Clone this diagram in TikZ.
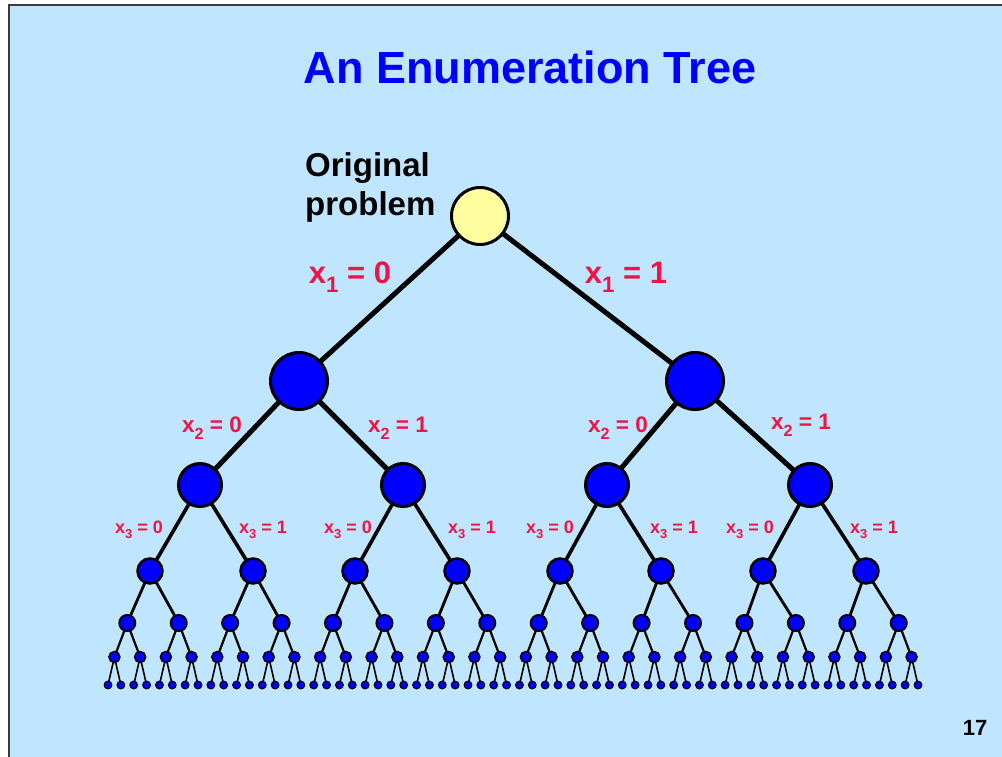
\documentclass[tikz,border=0pt]{standalone}
\usepackage{fontspec}
\setmainfont{Liberation Sans}
\usetikzlibrary{backgrounds}
\definecolor{bgblue}{RGB}{192,229,254}
\definecolor{lblred}{RGB}{240,20,70}
\definecolor{ttlblue}{RGB}{0,0,255}
\definecolor{ndblue}{RGB}{0,0,255}
\definecolor{ndyellow}{RGB}{255,255,160}
\definecolor{framecol}{RGB}{60,60,60}
\newcommand{\xeq}[2]{x\raisebox{-0.32em}{\scalebox{0.72}{#1}} = #2}
\pgfdeclarelayer{back}
\pgfdeclarelayer{edges}
\pgfsetlayers{back,edges,main}
\tikzset{
  nd/.style={circle, draw=black, fill=ndblue, inner sep=0pt},
  lvlroot/.style={nd, fill=ndyellow, minimum size=57pt, line width=3pt},
  lvla/.style={nd, minimum size=57pt, line width=3pt},
  lvlb/.style={nd, minimum size=43pt, line width=3pt},
  lvlc/.style={nd, minimum size=25pt, line width=2.5pt},
  lvld/.style={nd, minimum size=16pt, line width=2pt},
  lvle/.style={nd, minimum size=11pt, line width=1.5pt},
  lvlf/.style={nd, minimum size=7.6pt, line width=1.2pt},
  edgeA/.style={line width=5pt},
  edgeB/.style={line width=5pt},
  edgeC/.style={line width=3.6pt},
  edgeD/.style={line width=2.8pt},
  edgeE/.style={line width=2.2pt},
  edgeF/.style={line width=1.6pt},
  lblA/.style={text=lblred, font=\fontsize{31}{33}\selectfont\bfseries, anchor=base, inner sep=0pt},
  lblB/.style={text=lblred, font=\fontsize{22.5}{24}\selectfont\bfseries, anchor=base, inner sep=0pt},
  lblC/.style={text=lblred, font=\fontsize{18}{20}\selectfont\bfseries, anchor=base, inner sep=0pt},
}
\begin{document}
\begin{tikzpicture}[x=1pt,y=-1pt]
\useasboundingbox (0,0) rectangle (1002,757);
\begin{pgfonlayer}{back}
\fill[white] (0,0) rectangle (1002,757);
\fill[bgblue] (9,5) rectangle (1002,757);
\draw[framecol, line width=1.5pt] (9,757) -- (9,5) -- (1002,5);
\end{pgfonlayer}

% title
\node[text=ttlblue, font=\fontsize{45}{48}\selectfont\bfseries, anchor=base, inner sep=0pt] (title) at (530,84) {An Enumeration Tree};
\node[font=\fontsize{33}{36}\selectfont\bfseries, anchor=base west, inner sep=0pt] (orig1) at (305,177) {Original};
\node[font=\fontsize{33}{36}\selectfont\bfseries, anchor=base west, inner sep=0pt] (orig2) at (305,215) {problem};
\node[font=\fontsize{22}{24}\selectfont\bfseries, anchor=base, inner sep=0pt] (pgnum) at (975,735) {17};

% nodes
\node[lvlroot] (r) at (480,216) {};
\node[lvla] (a0) at (299,381) {};
\node[lvla] (a1) at (695,381) {};
\foreach \x [count=\i from 0] in {200,403,607,810} \node[lvlb] (b\i) at (\x,485) {};
\foreach \x [count=\i from 0] in {150,253,355,457,560,661,763,866} \node[lvlc] (c\i) at (\x,571) {};
\foreach \k in {0,...,15} \node[lvld] (d\k) at ({127.29+51.43*\k},623) {};
\foreach \j in {0,...,31} \node[lvle] (e\j) at ({114.43+25.714*\j},657) {};
\foreach \i in {0,...,63} \node[lvlf] (f\i) at ({108+12.857*\i},685) {};

% edges
\begin{pgfonlayer}{edges}
\draw[edgeA] (a0.center) -- (r.center) -- (a1.center);
\draw[edgeB] (b0.center) -- (a0.center) -- (b1.center);
\draw[edgeB] (b2.center) -- (a1.center) -- (b3.center);
\foreach \p in {0,...,3} {
  \pgfmathtruncatemacro\ca{2*\p}\pgfmathtruncatemacro\cb{2*\p+1}
  \draw[edgeC] (c\ca.center) -- (b\p.center) -- (c\cb.center);
}
\foreach \p in {0,...,7} {
  \pgfmathtruncatemacro\ca{2*\p}\pgfmathtruncatemacro\cb{2*\p+1}
  \draw[edgeD] (d\ca.center) -- (c\p.center) -- (d\cb.center);
}
\foreach \p in {0,...,15} {
  \pgfmathtruncatemacro\ca{2*\p}\pgfmathtruncatemacro\cb{2*\p+1}
  \draw[edgeE] (e\ca.center) -- (d\p.center) -- (e\cb.center);
}
\foreach \p in {0,...,31} {
  \pgfmathtruncatemacro\ca{2*\p}\pgfmathtruncatemacro\cb{2*\p+1}
  \draw[edgeF] (f\ca.center) -- (e\p.center) -- (f\cb.center);
}
\end{pgfonlayer}

% labels
\node[lblA] (l10) at (350,283) {\xeq{1}{0}};
\node[lblA] (l11) at (626,283) {\xeq{1}{1}};
\node[lblB] (l20) at (212,432) {\xeq{2}{0}};
\node[lblB] (l21) at (398,432) {\xeq{2}{1}};
\node[lblB] (l22) at (618,432) {\xeq{2}{0}};
\node[lblB] (l23) at (801,429) {\xeq{2}{1}};
\foreach \x/\v [count=\i from 0] in {139/0,263/1,348/0,472/1,550/0,674/1,750/0,874/1}
  \node[lblC] (l3\i) at (\x,533) {\xeq{3}{\v}};
\end{tikzpicture}
\end{document}
